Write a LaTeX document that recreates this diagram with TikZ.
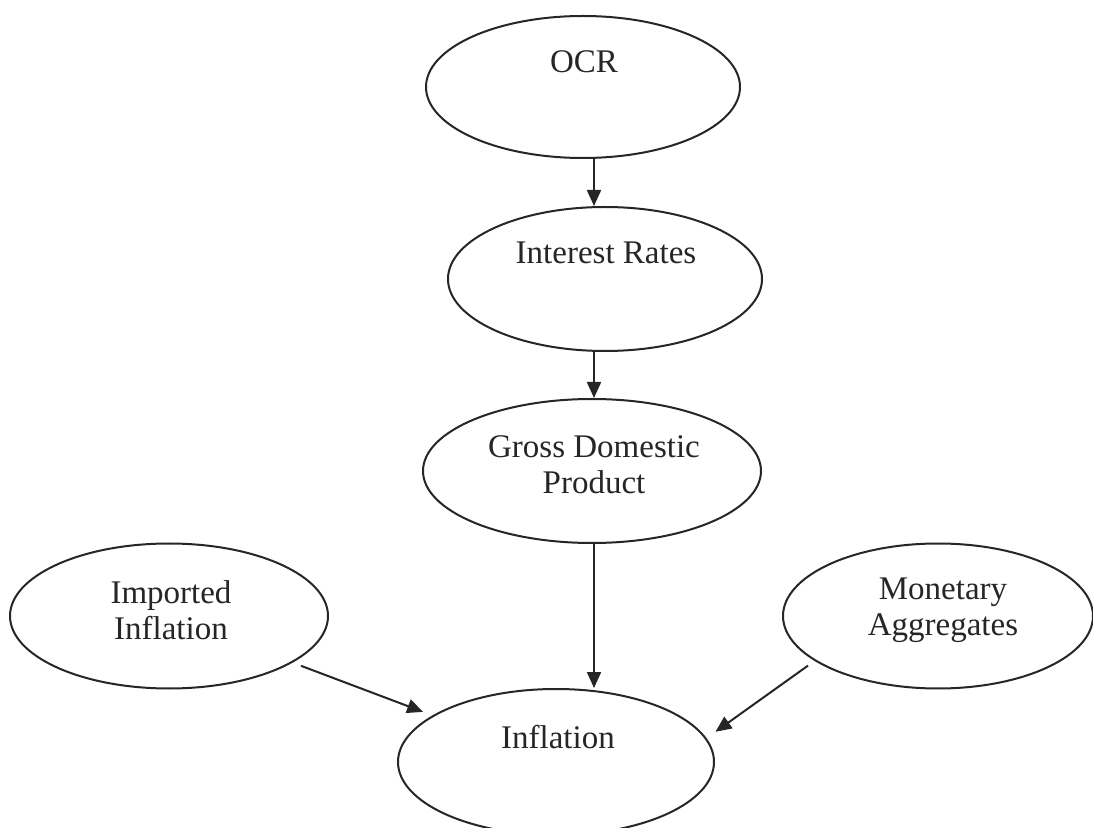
\documentclass[tikz,border=0pt]{standalone}
\usepackage{fontspec}
\setmainfont{Liberation Serif}
\usetikzlibrary{arrows.meta,calc,shapes.geometric}
\begin{document}
\begin{tikzpicture}[x=0.5pt,y=-0.5pt,
  ell/.style={draw=black!85,line width=1pt,ellipse,inner sep=0pt},
  lbl/.style={font=\fontsize{16.5}{18}\selectfont,text=black!85,align=center,inner sep=0pt},
  arr/.style={draw=black!85,line width=1pt,-{Triangle[length=8pt,width=7pt]}}]
\useasboundingbox[fill=white] (0,0) rectangle (1093,828);
% ellipses
\node[ell,minimum width=157pt,minimum height=71pt] (ocr) at (583,87) {};
\node[ell,minimum width=157pt,minimum height=72pt] (ir) at (605,279) {};
\node[ell,minimum width=169pt,minimum height=72pt] (gdp) at (592,471) {};
\node[ell,minimum width=159pt,minimum height=72.5pt] (imp) at (169,616) {};
\node[ell,minimum width=155pt,minimum height=72.5pt] (mon) at (938,616) {};
\node[ell,minimum width=158pt,minimum height=73pt] (inf) at (556,762) {};
% labels
\node[lbl] (tocr) at (584,62) {OCR};
\node[lbl] (tir) at (606,253) {Interest Rates};
\node[lbl] (tgdp) at (594,465) {Gross Domestic\\Product};
\node[lbl] (timp) at (171,610) {Imported\\Inflation};
\node[lbl] (tmon) at (943,610) {Monetary\\Aggregates};
\node[lbl] (tinf) at (558,737) {Inflation};
% connectors
\coordinate (ax) at (594,0);
\draw[arr] (ocr.south -| ax) -- (ir.north -| ax);
\draw[arr] (ir.south -| ax) -- (gdp.north -| ax);
\draw[arr] (gdp.south -| ax) -- (inf.north -| ax);
\draw[arr,shorten <=4.5pt,shorten >=5pt] (imp) -- (inf);
\draw[arr,shorten <=4pt,shorten >=5.5pt] (mon.200) -- (inf.9);
\end{tikzpicture}
\end{document}
